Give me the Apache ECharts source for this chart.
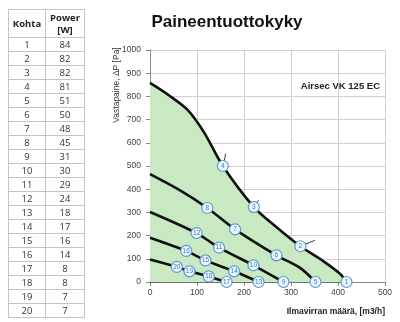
<!DOCTYPE html>
<html>
<head>
<meta charset="utf-8">
<script src="https://cdn.jsdelivr.net/npm/echarts@6/dist/echarts.min.js"></script>
<style>
  html, body { margin: 0; padding: 0; background: #fff; }
  #wrap { position: relative; width: 400px; height: 322px; overflow: hidden; }
  #chart { position: absolute; left: 0; top: 0; width: 400px; height: 322px; }
  #tbl { position: absolute; left: 8px; top: 9px; border-collapse: collapse;
         font-family: "Open Sans", "Noto Sans", sans-serif; font-size: 9.5px; color: #333; }
  #tbl td, #tbl th { border: 1px solid #c4c4c4; text-align: center; padding: 0; line-height: 12px; }
  #tbl th { font-weight: bold; color: #222; height: 27px; }
  #tbl td { height: 13px; }
</style>
</head>
<body>
<div id="wrap">
  <div id="chart"></div>
  <table id="tbl"></table>
</div>
<script>
// Operating points: number, airflow [m3/h], pressure [Pa], power [W]
const pointIds = [1, 2, 3, 4, 5, 6, 7, 8, 9, 10, 11, 12, 13, 14, 15, 16, 17, 18, 19, 20];
const pointFlow = [418, 320, 221, 155, 352, 269, 181, 122, 284, 220, 147, 99, 231, 179, 118, 77, 163, 125, 84, 57];
const pointPressure = [0, 154, 323, 500, 0, 115, 227, 319, 0, 72, 148, 211, 0, 46, 93, 134, 0, 24, 46, 65];
const pointPower = [84, 82, 82, 81, 51, 50, 48, 45, 31, 30, 29, 24, 18, 17, 16, 14, 8, 8, 7, 7];

// Fan curves (flow, pressure), highest speed first
const fanCurve1 = [[0, 858], [40, 805], [80, 742], [115, 645], [155, 500], [221, 323], [270, 235], [320, 154], [370, 88], [404, 36], [418, 0]];
const fanCurve2 = [[0, 465], [64, 395], [122, 319], [181, 227], [269, 115], [320, 60], [352, 0]];
const fanCurve3 = [[0, 302], [99, 211], [147, 148], [220, 72], [284, 0]];
const fanCurve4 = [[0, 191], [77, 134], [118, 93], [179, 46], [231, 0]];
const fanCurve5 = [[0, 97], [57, 65], [84, 46], [125, 24], [163, 0]];

// System curves through the origin
const sysCurveA = [[0, 0], [30, 18], [57, 65], [99, 211], [122, 319], [155, 500], [161, 553]];
const sysCurveB = [[0, 0], [40, 11], [84, 46], [118, 93], [147, 148], [181, 227], [221, 323], [231, 352]];
const sysCurveC = [[0, 0], [60, 6], [125, 24], [179, 46], [220, 72], [269, 115], [320, 154], [351, 180]];
const sysCurveD = [[0, 0], [163, 0], [231, 0], [284, 0], [352, 0], [418, 0]];

// Axis ticks
const xTicks = [0, 100, 200, 300, 400, 500];
const yTicks = [0, 100, 200, 300, 400, 500, 600, 700, 800, 900, 1000];

// Power table
const tbl = document.getElementById('tbl');
let html = '<tr><th style="width:36px">Kohta</th><th style="width:38px">Power<br>[W]</th></tr>';
pointIds.forEach((id, i) => { html += '<tr><td>' + id + '</td><td>' + pointPower[i] + '</td></tr>'; });
tbl.innerHTML = html;

const chart = echarts.init(document.getElementById('chart'), null, { renderer: 'canvas' });
const font = '"Liberation Sans", Arial, sans-serif';

function fanSeries(data, area) {
  const s = {
    type: 'line', data: data, smooth: 0.3, symbol: 'none', z: 4,
    lineStyle: { color: '#111', width: 2.6 }, silent: true
  };
  if (area) s.areaStyle = { color: '#c8e9c1', opacity: 1 };
  return s;
}
function sysSeries(data) {
  return {
    type: 'line', data: data, smooth: 0.3, symbol: 'none', z: 3,
    lineStyle: { color: '#2a2a2a', width: 1 }, silent: true
  };
}

const pts = pointIds.map((id, i) => [pointFlow[i], pointPressure[i], id]);

chart.setOption({
  animation: false,
  grid: { left: 150, right: 15, top: 50, bottom: 40 },
  xAxis: {
    type: 'value', min: xTicks[0], max: xTicks[xTicks.length - 1], interval: 100,
    axisLine: { show: true, lineStyle: { color: '#8a8a8a', width: 1 } },
    axisTick: { show: true, length: 4, lineStyle: { color: '#8a8a8a' } },
    axisLabel: { color: '#444', fontSize: 8.5, fontFamily: font, margin: 6, formatter: v => String(v) },
    splitLine: { show: true, lineStyle: { color: '#cfcfcf', width: 1 } }
  },
  yAxis: {
    type: 'value', min: yTicks[0], max: yTicks[yTicks.length - 1], interval: 100,
    axisLine: { show: true, lineStyle: { color: '#8a8a8a', width: 1 } },
    axisTick: { show: true, length: 4, lineStyle: { color: '#8a8a8a' } },
    axisLabel: { color: '#444', fontSize: 8.5, fontFamily: font, margin: 9, formatter: v => String(v) },
    splitLine: { show: true, lineStyle: { color: '#cfcfcf', width: 1 } }
  },
  graphic: [
    { type: 'text', x: 227, y: 22,
      style: { text: 'Paineentuottokyky', align: 'center', verticalAlign: 'middle',
               font: 'bold 17px "Liberation Sans", Arial, sans-serif', fill: '#111' } },
    { type: 'text', x: 380, y: 86,
      style: { text: 'Airsec VK 125 EC', align: 'right', verticalAlign: 'middle',
               font: 'bold 9.5px "Liberation Sans", Arial, sans-serif', fill: '#222' } },
    { type: 'text', x: 385, y: 312,
      style: { text: 'Ilmavirran määrä, [m3/h]', align: 'right', verticalAlign: 'middle',
               font: 'bold 8.5px "Liberation Sans", Arial, sans-serif', fill: '#222' } },
    { type: 'text', x: 117, y: 85, rotation: Math.PI / 2,
      style: { text: 'Vastapaine, ΔP [Pa]', align: 'center', verticalAlign: 'middle',
               font: '8.5px "Liberation Sans", Arial, sans-serif', fill: '#333' } }
  ],
  series: [
    fanSeries(fanCurve1, true),
    sysSeries(sysCurveA), sysSeries(sysCurveB), sysSeries(sysCurveC), sysSeries(sysCurveD),
    fanSeries(fanCurve2), fanSeries(fanCurve3), fanSeries(fanCurve4), fanSeries(fanCurve5),
    {
      type: 'scatter', data: pts, symbol: 'circle', symbolSize: 11, z: 6, silent: true,
      itemStyle: { color: '#eef5fc', borderColor: '#5b9bd5', borderWidth: 1.2, opacity: 1 },
      label: { show: true, position: 'inside', formatter: p => p.data[2],
               fontSize: 6.5, color: '#3b7cc0', fontFamily: font }
    }
  ]
});
</script>
</body>
</html>
